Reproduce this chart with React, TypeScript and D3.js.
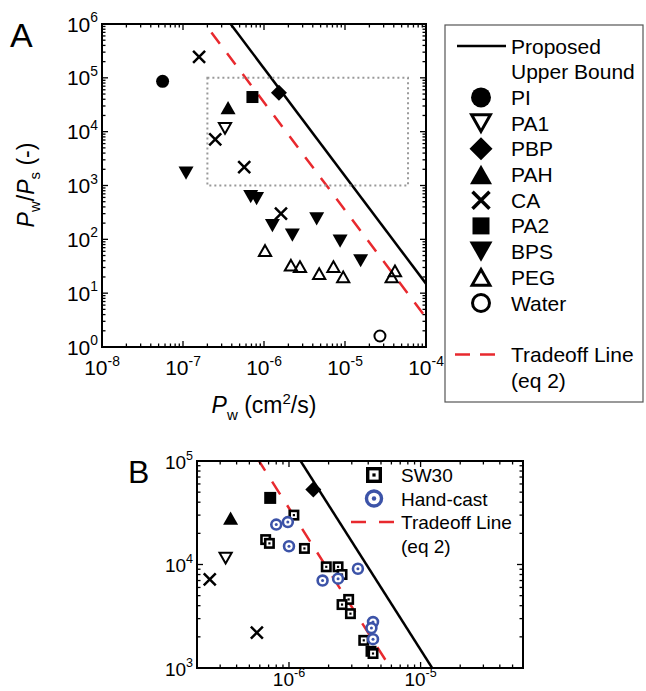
import { useEffect, useRef } from 'react'
import * as d3 from 'd3'

type Pt = [number, number]

// panel A data: [Pw (cm2/s), Pw/Ps]
const piPoints: Pt[] = [[5.6e-8, 8.6e4]]
const pa1Points: Pt[] = [[3.3e-7, 1.15e4]]
const pbpPoints: Pt[] = [[1.53e-6, 5.3e4]]
const pahPoints: Pt[] = [[3.6e-7, 2.8e4]]
const caPoints: Pt[] = [[1.58e-7, 2.45e5], [2.5e-7, 7.2e3], [5.7e-7, 2.2e3], [1.62e-6, 3.0e2]]
const pa2Points: Pt[] = [[7.2e-7, 4.4e4]]
const bpsPoints: Pt[] = [
  [1.09e-7, 1.7e3], [6.85e-7, 6.2e2], [8.1e-7, 5.7e2], [1.27e-6, 1.8e2],
  [2.24e-6, 1.2e2], [4.47e-6, 2.4e2], [8.7e-6, 93], [1.56e-5, 40],
]
const pegPoints: Pt[] = [
  [1.03e-6, 62], [2.15e-6, 33], [2.78e-6, 31], [4.8e-6, 23],
  [7.2e-6, 31], [9.5e-6, 20], [3.77e-5, 20], [4.14e-5, 26],
]
const waterPoints: Pt[] = [[2.7e-5, 1.6]]

// panel B data
const sw30Points: Pt[] = [
  [1.09e-6, 3.0e4], [6.65e-7, 1.74e4], [7.1e-7, 1.6e4], [1.31e-6, 1.43e4],
  [1.92e-6, 9.5e3], [2.36e-6, 9.5e3], [2.53e-6, 8.0e3], [2.84e-6, 4.6e3],
  [2.53e-6, 4.1e3], [2.93e-6, 3.35e3], [3.7e-6, 1.85e3], [4.2e-6, 1.45e3], [4.35e-6, 1.38e3],
]
const handCastPoints: Pt[] = [
  [8.0e-7, 2.43e4], [9.8e-7, 2.57e4], [1.0e-6, 1.5e4], [1.8e-6, 7.0e3],
  [2.36e-6, 7.3e3], [3.34e-6, 9.1e3], [4.35e-6, 2.78e3], [4.23e-6, 2.43e3], [4.35e-6, 1.9e3],
]

// Pw/Ps = K / Pw^2
const upperBoundK = 1.5e-7
const tradeoffK = 3.5e-8

const xDomainA: Pt = [1e-8, 1e-4]
const yDomainA: Pt = [1, 1e6]
const zoomX: Pt = [2e-7, 6e-5]
const zoomY: Pt = [1e3, 1e5]

const xTicksA = [1e-8, 1e-7, 1e-6, 1e-5, 1e-4]
const yTicksA = [1e0, 1e1, 1e2, 1e3, 1e4, 1e5, 1e6]
const xTicksB = [1e-6, 1e-5]
const yTicksB = [1e3, 1e4, 1e5]

const legendA = [
  { label: 'PI', kind: 'dot' },
  { label: 'PA1', kind: 'triDownOpen' },
  { label: 'PBP', kind: 'diamond' },
  { label: 'PAH', kind: 'triUp' },
  { label: 'CA', kind: 'cross' },
  { label: 'PA2', kind: 'square' },
  { label: 'BPS', kind: 'triDown' },
  { label: 'PEG', kind: 'triUpOpen' },
  { label: 'Water', kind: 'ring' },
]
const legendB = ['SW30', 'Hand-cast', 'Tradeoff Line', '(eq 2)']

const RED = '#e8292e'
const BLUE = '#3c53a8'
const FONT = '"Liberation Sans", Arial, sans-serif'

type G = d3.Selection<SVGGElement, unknown, null, undefined>

function marker(g: G, kind: string, cx: number, cy: number, s: number, sw = 2, face = 'none') {
  const tri = (up: boolean, size: number) => {
    const h = size * 0.88
    const d = up ? 1 : -1
    return `M${cx},${cy - (d * h) / 2}L${cx + size / 2},${cy + (d * h) / 2}L${cx - size / 2},${cy + (d * h) / 2}Z`
  }
  if (kind === 'dot') {
    g.append('circle').attr('cx', cx).attr('cy', cy).attr('r', s / 2).attr('fill', '#000')
  } else if (kind === 'ring') {
    g.append('circle').attr('cx', cx).attr('cy', cy).attr('r', (s - sw) / 2)
      .attr('fill', face).attr('stroke', '#000').attr('stroke-width', sw)
  } else if (kind === 'triUp' || kind === 'triDown') {
    g.append('path').attr('d', tri(kind === 'triUp', s)).attr('fill', '#000')
  } else if (kind === 'triUpOpen' || kind === 'triDownOpen') {
    g.append('path').attr('d', tri(kind === 'triUpOpen', s - sw * 1.4))
      .attr('fill', face).attr('stroke', '#000').attr('stroke-width', sw).attr('stroke-linejoin', 'miter')
  } else if (kind === 'diamond') {
    g.append('path')
      .attr('d', `M${cx},${cy - s / 2}L${cx + s / 2},${cy}L${cx},${cy + s / 2}L${cx - s / 2},${cy}Z`)
      .attr('fill', '#000')
  } else if (kind === 'square') {
    g.append('rect').attr('x', cx - s / 2).attr('y', cy - s / 2).attr('width', s).attr('height', s).attr('fill', '#000')
  } else if (kind === 'cross') {
    const r = s / 2
    g.append('path')
      .attr('d', `M${cx - r},${cy - r}L${cx + r},${cy + r}M${cx - r},${cy + r}L${cx + r},${cy - r}`)
      .attr('stroke', '#000').attr('stroke-width', sw).attr('fill', 'none')
  } else if (kind === 'sw30') {
    const a = s - sw
    g.append('rect').attr('x', cx - a / 2).attr('y', cy - a / 2).attr('width', a).attr('height', a)
      .attr('fill', '#fff').attr('stroke', '#000').attr('stroke-width', sw)
    const dd = s * 0.2
    g.append('rect').attr('x', cx - dd / 2).attr('y', cy - dd / 2).attr('width', dd).attr('height', dd).attr('fill', '#000')
  } else if (kind === 'hand') {
    g.append('circle').attr('cx', cx).attr('cy', cy).attr('r', (s - sw) / 2)
      .attr('fill', '#fff').attr('stroke', BLUE).attr('stroke-width', sw)
    g.append('circle').attr('cx', cx).attr('cy', cy).attr('r', s * 0.12).attr('fill', BLUE)
  }
}

function logTicks([lo, hi]: Pt) {
  const major: number[] = []
  const minor: number[] = []
  for (let e = Math.floor(Math.log10(lo)); e <= Math.ceil(Math.log10(hi)); e++) {
    for (let k = 1; k <= 9; k++) {
      const v = k * Math.pow(10, e)
      if (v < lo * 0.999 || v > hi * 1.001) continue
      ;(k === 1 ? major : minor).push(v)
    }
  }
  return { major, minor }
}

function supLabel(g: G, x: number, y: number, v: number, anchor: string, fs: number) {
  const t = g.append('text').attr('x', x).attr('y', y).attr('text-anchor', anchor)
    .attr('font-size', fs).attr('fill', '#000')
  t.append('tspan').text('10')
  t.append('tspan').attr('dy', -fs * 0.45).attr('font-size', fs * 0.66).text(String(Math.round(Math.log10(v))))
}

function frame(
  g: G,
  x: d3.ScaleLogarithmic<number, number>,
  y: d3.ScaleLogarithmic<number, number>,
  xLabels: number[],
  yLabels: number[],
  fs: number,
  xLabelOffset: number,
) {
  const [l, r] = x.range()
  const [b, t] = y.range()
  const xt = logTicks(x.domain() as Pt)
  const yt = logTicks(y.domain() as Pt)
  const tk = g.append('g').attr('stroke', '#000').attr('stroke-width', 1.3)
  const tick = (len: number, vals: number[], axis: 'x' | 'y') => {
    vals.forEach((v) => {
      if (axis === 'x') {
        const p = x(v)
        tk.append('line').attr('x1', p).attr('x2', p).attr('y1', b).attr('y2', b - len)
        tk.append('line').attr('x1', p).attr('x2', p).attr('y1', t).attr('y2', t + len)
      } else {
        const p = y(v)
        tk.append('line').attr('y1', p).attr('y2', p).attr('x1', l).attr('x2', l + len)
        tk.append('line').attr('y1', p).attr('y2', p).attr('x1', r).attr('x2', r - len)
      }
    })
  }
  tick(6, xt.major, 'x')
  tick(3.5, xt.minor, 'x')
  tick(6, yt.major, 'y')
  tick(3.5, yt.minor, 'y')
  g.append('rect').attr('x', l).attr('y', t).attr('width', r - l).attr('height', b - t)
    .attr('fill', 'none').attr('stroke', '#000').attr('stroke-width', 2)
  xLabels.forEach((v) => supLabel(g, x(v), b + xLabelOffset, v, 'middle', fs))
  yLabels.forEach((v) => supLabel(g, l - 4, y(v) + 7.5, v, 'end', fs))
}

function boundLine(
  g: G,
  x: d3.ScaleLogarithmic<number, number>,
  y: d3.ScaleLogarithmic<number, number>,
  k: number,
) {
  const [x0, x1] = x.domain()
  const pts: Pt[] = [x0, x1].map((v) => [v, k / (v * v)])
  return g.append('path').datum(pts)
    .attr('d', d3.line<Pt>().x((d) => x(d[0])).y((d) => y(d[1])))
    .attr('fill', 'none')
}

export default function App() {
  const ref = useRef<SVGSVGElement>(null)

  useEffect(() => {
    if (!ref.current) return
    const svg = d3.select(ref.current)
    svg.selectAll('*').remove()
    const root = svg.append('g').attr('font-family', FONT) as unknown as G

    // ---------- panel A ----------
    const xA = d3.scaleLog().domain(xDomainA).range([102, 426])
    const yA = d3.scaleLog().domain(yDomainA).range([347, 24])
    const a = root.append('g')
    a.append('clipPath').attr('id', 'clipA').append('rect')
      .attr('x', 102).attr('y', 24).attr('width', 324).attr('height', 323)
    const linesA = a.append('g').attr('clip-path', 'url(#clipA)')
    boundLine(linesA, xA, yA, upperBoundK).attr('stroke', '#000').attr('stroke-width', 2.5)
    boundLine(linesA, xA, yA, tradeoffK).attr('stroke', RED).attr('stroke-width', 2.5)
      .attr('stroke-dasharray', '14,12')
    a.append('rect')
      .attr('x', xA(zoomX[0])).attr('y', yA(zoomY[1]))
      .attr('width', xA(zoomX[1]) - xA(zoomX[0])).attr('height', yA(zoomY[0]) - yA(zoomY[1]))
      .attr('fill', 'none').attr('stroke', '#999').attr('stroke-width', 2).attr('stroke-dasharray', '2,3')

    const mA = a.append('g') as unknown as G
    const seriesA: [Pt[], string, number, number][] = [
      [piPoints, 'dot', 13, 2],
      [pa1Points, 'triDownOpen', 15, 2],
      [pbpPoints, 'diamond', 16, 2],
      [pahPoints, 'triUp', 15, 2],
      [caPoints, 'cross', 12, 2.5],
      [pa2Points, 'square', 12, 2],
      [bpsPoints, 'triDown', 15, 2],
      [pegPoints, 'triUpOpen', 15, 2],
      [waterPoints, 'ring', 13, 2],
    ]
    seriesA.forEach(([pts, kind, s, sw]) => pts.forEach((p) => marker(mA, kind, xA(p[0]), yA(p[1]), s, sw)))
    frame(a as unknown as G, xA, yA, xTicksA, yTicksA, 21, 28)

    a.append('text').attr('x', 10).attr('y', 47).attr('font-size', 34).text('A')

    const yt = a.append('text').attr('transform', 'translate(34,185) rotate(-90)')
      .attr('text-anchor', 'middle').attr('font-size', 23)
    yt.append('tspan').attr('font-style', 'italic').text('P')
    yt.append('tspan').attr('font-size', 15).attr('dy', 6).text('w')
    yt.append('tspan').attr('dy', -6).text('/')
    yt.append('tspan').attr('font-style', 'italic').text('P')
    yt.append('tspan').attr('font-size', 15).attr('dy', 6).text('s')
    yt.append('tspan').attr('dy', -6).text(' (-)')

    const xt = a.append('text').attr('x', 264).attr('y', 413).attr('text-anchor', 'middle').attr('font-size', 23)
    xt.append('tspan').attr('font-style', 'italic').text('P')
    xt.append('tspan').attr('font-size', 15).attr('dy', 7).text('w')
    xt.append('tspan').attr('dy', -7).text(' (cm')
    xt.append('tspan').attr('font-size', 15).attr('dy', -9).text('2')
    xt.append('tspan').attr('dy', 9).text('/s)')

    // legend A
    const lg = a.append('g').attr('font-size', 21) as unknown as G
    lg.append('rect').attr('x', 445).attr('y', 25).attr('width', 198).attr('height', 377)
      .attr('fill', '#fff').attr('stroke', '#555').attr('stroke-width', 1.2)
    const lx = 481
    const tx = 511
    const ly = d3.scaleLinear().domain([0, 1]).range([46, 71.7])
    lg.append('line').attr('x1', 457).attr('x2', 506).attr('y1', ly(0)).attr('y2', ly(0))
      .attr('stroke', '#000').attr('stroke-width', 2.5)
    lg.append('text').attr('x', tx).attr('y', ly(0) + 7.5).text('Proposed')
    lg.append('text').attr('x', tx).attr('y', ly(1) + 7.5).text('Upper Bound')
    const legendSizes: Record<string, [number, number]> = {
      dot: [20, 2], triDownOpen: [23, 3], diamond: [23, 2], triUp: [22, 2], cross: [17, 3.5],
      square: [17, 2], triDown: [23, 2], triUpOpen: [22, 3], ring: [20, 3],
    }
    legendA.forEach((d, i) => {
      const yy = ly(i + 2)
      const [s, sw] = legendSizes[d.kind]
      marker(lg, d.kind, lx, yy, s, sw)
      lg.append('text').attr('x', tx).attr('y', yy + 7.5).text(d.label)
    })
    const yTo = ly(legendA.length + 3)
    lg.append('line').attr('x1', 455).attr('x2', 495).attr('y1', yTo).attr('y2', yTo)
      .attr('stroke', RED).attr('stroke-width', 2.5).attr('stroke-dasharray', '15,10')
    lg.append('text').attr('x', tx).attr('y', yTo + 7.5).text('Tradeoff Line')
    lg.append('text').attr('x', tx).attr('y', ly(legendA.length + 4) + 7.5).text('(eq 2)')

    // ---------- panel B ----------
    const xB = d3.scaleLog().domain(zoomX).range([197, 523])
    const yB = d3.scaleLog().domain(zoomY).range([668, 461])
    const bG = root.append('g')
    bG.append('clipPath').attr('id', 'clipB').append('rect')
      .attr('x', 197).attr('y', 461).attr('width', 326).attr('height', 207)
    const linesB = bG.append('g').attr('clip-path', 'url(#clipB)')
    boundLine(linesB, xB, yB, upperBoundK).attr('stroke', '#000').attr('stroke-width', 2.5)
    boundLine(linesB, xB, yB, tradeoffK).attr('stroke', RED).attr('stroke-width', 2.5)
      .attr('stroke-dasharray', '15,13')

    const mB = bG.append('g') as unknown as G
    const seriesB: [Pt[], string, number, number][] = [
      [pa1Points, 'triDownOpen', 15, 2],
      [pbpPoints, 'diamond', 16, 2],
      [pahPoints, 'triUp', 15, 2],
      [caPoints, 'cross', 12, 2.5],
      [pa2Points, 'square', 12, 2],
    ]
    seriesB.forEach(([pts, kind, s, sw]) =>
      pts.forEach((p) => {
        if (p[0] < zoomX[0] || p[0] > zoomX[1] || p[1] < zoomY[0] || p[1] > zoomY[1]) return
        marker(mB, kind, xB(p[0]), yB(p[1]), s, sw, '#fff')
      }),
    )
    sw30Points.forEach((p) => marker(mB, 'sw30', xB(p[0]), yB(p[1]), 11, 2.6))
    handCastPoints.forEach((p) => marker(mB, 'hand', xB(p[0]), yB(p[1]), 12.5, 2.6))
    frame(bG as unknown as G, xB, yB, xTicksB, yTicksB, 19, 18)

    bG.append('text').attr('x', 128).attr('y', 483).attr('font-size', 32).text('B')

    const lgB = bG.append('g').attr('font-size', 19) as unknown as G
    const lyB = d3.scaleLinear().domain([0, 1]).range([475, 498.5])
    marker(lgB, 'sw30', 374, lyB(0), 16, 3.4)
    marker(lgB, 'hand', 374, lyB(1), 18.5, 3.4)
    lgB.append('line').attr('x1', 351).attr('x2', 395).attr('y1', lyB(2)).attr('y2', lyB(2))
      .attr('stroke', RED).attr('stroke-width', 2.5).attr('stroke-dasharray', '15,13')
    legendB.forEach((s, i) => lgB.append('text').attr('x', 401).attr('y', lyB(i) + 7).text(s))
  }, [])

  return (
    <svg
      ref={ref}
      width={646}
      height={691}
      style={{ position: 'absolute', left: 0, top: 0, background: '#fff' }}
    />
  )
}
